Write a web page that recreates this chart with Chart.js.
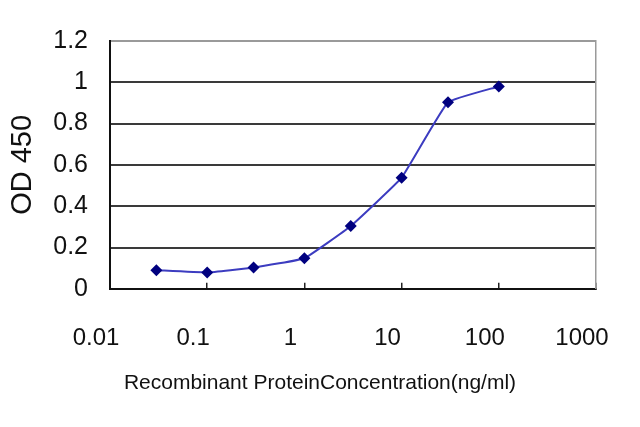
<!DOCTYPE html>
<html>
<head>
<meta charset="utf-8">
<script src="https://cdn.jsdelivr.net/npm/chart.js@4.4.1/dist/chart.umd.min.js"></script>
<style>
  html, body { margin: 0; padding: 0; background: #fff; }
  #wrap { width: 640px; height: 427px; }
</style>
</head>
<body>
<div id="wrap"><canvas id="odChart" width="640" height="427"></canvas></div>
<script>
// concentration (ng/ml) vs OD 450
const concentration = [0.03, 0.1, 0.3, 1, 3, 10, 30, 100];
const od450 = [0.09, 0.079, 0.103, 0.148, 0.304, 0.538, 0.903, 0.98];

const xTickValues = [0.01, 0.1, 1, 10, 100, 1000];
const xTickLabels = ["0.01", "0.1", "1", "10", "100", "1000"];
const yTickValues = [0, 0.2, 0.4, 0.6, 0.8, 1, 1.2];
const yTickLabels = ["0", "0.2", "0.4", "0.6", "0.8", "1", "1.2"];

const FONT = "'Liberation Sans', Arial, sans-serif";

const ctx = document.getElementById("odChart").getContext("2d");
new Chart(ctx, {
  type: "line",
  data: {
    datasets: [{
      label: "OD 450",
      data: concentration.map((c, i) => ({ x: c, y: od450[i] })),
      borderColor: "#3c3cc0",
      borderWidth: 2,
      backgroundColor: "#00007f",
      pointBackgroundColor: "#00007f",
      pointBorderColor: "#00007f",
      pointStyle: "rectRot",
      pointRadius: 6,
      pointBorderWidth: 0,
      tension: 0.1,
      fill: false,
    }],
  },
  options: {
    responsive: false,
    animation: false,
    devicePixelRatio: 1,
    layout: { padding: { top: 41, right: 0, left: 0, bottom: 0 } },
    plugins: {
      legend: { display: false },
      tooltip: { enabled: false },
      title: {
        display: true,
        position: "bottom",
        text: "Recombinant ProteinConcentration(ng/ml)",
        color: "#111",
        font: { family: FONT, size: 21, weight: "normal" },
        padding: { top: 12, bottom: 31 },
      },
    },
    scales: {
      x: {
        type: "logarithmic",
        min: 0.01,
        max: 1000,
        afterBuildTicks: (scale) => {
          scale.ticks = xTickValues.map(v => ({ value: v }));
        },
        afterFit: (scale) => {
          scale.height = 70;
          scale.paddingLeft = 0;
          scale.paddingRight = 0;
        },
        ticks: {
          autoSkip: false,
          maxRotation: 0,
          padding: 41,
          labelOffset: -14,
          color: "#111",
          font: { family: FONT, size: 24 },
          callback: (v) => {
            const i = xTickValues.findIndex(t => Math.abs(t - v) < v * 1e-6);
            return i >= 0 ? xTickLabels[i] : "";
          },
        },
        grid: { drawOnChartArea: false, drawTicks: true, tickLength: -6, color: "#222", lineWidth: 1.5 },
        border: { color: "#111", width: 2 },
      },
      y: {
        min: 0,
        max: 1.2,
        afterBuildTicks: (scale) => {
          scale.ticks = yTickValues.map(v => ({ value: v }));
        },
        afterFit: (scale) => { scale.width = 110; },
        ticks: {
          padding: 22,
          color: "#111",
          font: { family: FONT, size: 25 },
          callback: (v) => {
            const i = yTickValues.findIndex(t => Math.abs(t - v) < 1e-6);
            return i >= 0 ? yTickLabels[i] : "";
          },
        },
        grid: {
          drawTicks: false,
          color: (c) => (c.tick && Math.abs(c.tick.value - 1.2) < 1e-6) ? "#9a9a9a" : "#3a3a3a",
          lineWidth: 2,
        },
        border: { color: "#111", width: 2 },
        title: {
          display: true,
          text: "OD 450",
          color: "#111",
          font: { family: FONT, size: 29 },
          padding: { top: 6, bottom: 0 },
        },
      },
      yRight: {
        position: "right",
        min: 0,
        max: 1.2,
        afterFit: (scale) => { scale.width = 44; },
        ticks: { display: false },
        grid: { drawOnChartArea: false, drawTicks: false },
        border: { color: "#9a9a9a", width: 1.5 },
      },
    },
  },
});
</script>
</body>
</html>
